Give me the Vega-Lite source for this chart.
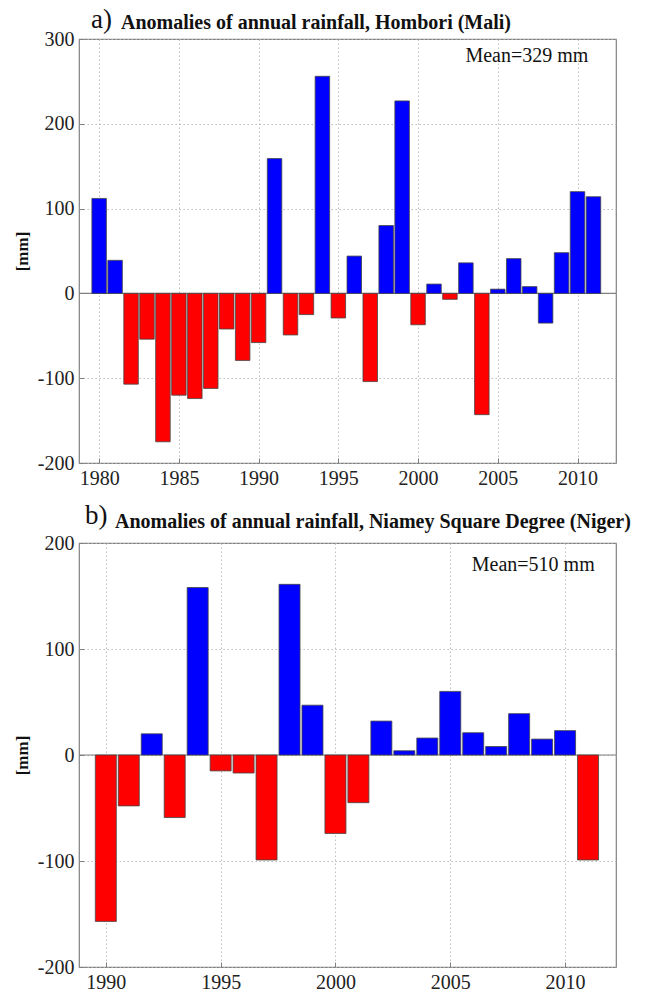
{
  "$schema": "https://vega.github.io/schema/vega-lite/v6.json",
  "background": "white",
  "padding": {"left": 12, "top": 5, "right": 0, "bottom": 0},
  "spacing": 12,
  "config": {
    "font": "Liberation Serif",
    "view": {"stroke": "#808080", "strokeWidth": 1.2},
    "axis": {
      "labelFont": "Liberation Serif",
      "labelFontSize": 20,
      "labelColor": "#222222",
      "grid": true,
      "gridColor": "#b4b4b4",
      "gridDash": [1.5, 2.5],
      "gridWidth": 0.9,
      "domain": false,
      "tickColor": "#808080",
      "tickSize": -5,
      "titleFont": "Liberation Serif",
      "titleFontSize": 17,
      "titleFontWeight": "bold",
      "titleColor": "#111111",
      "titlePadding": 6
    },
    "axisX": {"labelPadding": 10},
    "axisY": {"labelPadding": 10},
    "title": {"font": "Liberation Serif", "fontSize": 20, "fontWeight": "bold", "anchor": "start", "frame": "group", "color": "#111111"}
  },
  "datasets": {
    "hombori": [
      {"year": 1980, "anomaly": 112, "group": "wet"},
      {"year": 1981, "anomaly": 39, "group": "wet"},
      {"year": 1982, "anomaly": -107, "group": "dry"},
      {"year": 1983, "anomaly": -54, "group": "dry"},
      {"year": 1984, "anomaly": -175, "group": "dry"},
      {"year": 1985, "anomaly": -120, "group": "dry"},
      {"year": 1986, "anomaly": -124, "group": "dry"},
      {"year": 1987, "anomaly": -112, "group": "dry"},
      {"year": 1988, "anomaly": -42, "group": "dry"},
      {"year": 1989, "anomaly": -79, "group": "dry"},
      {"year": 1990, "anomaly": -58, "group": "dry"},
      {"year": 1991, "anomaly": 159, "group": "wet"},
      {"year": 1992, "anomaly": -49, "group": "dry"},
      {"year": 1993, "anomaly": -25, "group": "dry"},
      {"year": 1994, "anomaly": 256, "group": "wet"},
      {"year": 1995, "anomaly": -29, "group": "dry"},
      {"year": 1996, "anomaly": 44, "group": "wet"},
      {"year": 1997, "anomaly": -104, "group": "dry"},
      {"year": 1998, "anomaly": 80, "group": "wet"},
      {"year": 1999, "anomaly": 227, "group": "wet"},
      {"year": 2000, "anomaly": -37, "group": "dry"},
      {"year": 2001, "anomaly": 11, "group": "wet"},
      {"year": 2002, "anomaly": -7, "group": "dry"},
      {"year": 2003, "anomaly": 36, "group": "wet"},
      {"year": 2004, "anomaly": -143, "group": "dry"},
      {"year": 2005, "anomaly": 5, "group": "wet"},
      {"year": 2006, "anomaly": 41, "group": "wet"},
      {"year": 2007, "anomaly": 8, "group": "wet"},
      {"year": 2008, "anomaly": -35, "group": "wet"},
      {"year": 2009, "anomaly": 48, "group": "wet"},
      {"year": 2010, "anomaly": 120, "group": "wet"},
      {"year": 2011, "anomaly": 114, "group": "wet"}
    ],
    "niamey": [
      {"year": 1990, "anomaly": -157, "group": "dry"},
      {"year": 1991, "anomaly": -48, "group": "dry"},
      {"year": 1992, "anomaly": 20, "group": "wet"},
      {"year": 1993, "anomaly": -59, "group": "dry"},
      {"year": 1994, "anomaly": 158, "group": "wet"},
      {"year": 1995, "anomaly": -15, "group": "dry"},
      {"year": 1996, "anomaly": -17, "group": "dry"},
      {"year": 1997, "anomaly": -99, "group": "dry"},
      {"year": 1998, "anomaly": 161, "group": "wet"},
      {"year": 1999, "anomaly": 47, "group": "wet"},
      {"year": 2000, "anomaly": -74, "group": "dry"},
      {"year": 2001, "anomaly": -45, "group": "dry"},
      {"year": 2002, "anomaly": 32, "group": "wet"},
      {"year": 2003, "anomaly": 4, "group": "wet"},
      {"year": 2004, "anomaly": 16, "group": "wet"},
      {"year": 2005, "anomaly": 60, "group": "wet"},
      {"year": 2006, "anomaly": 21, "group": "wet"},
      {"year": 2007, "anomaly": 8, "group": "wet"},
      {"year": 2008, "anomaly": 39, "group": "wet"},
      {"year": 2009, "anomaly": 15, "group": "wet"},
      {"year": 2010, "anomaly": 23, "group": "wet"},
      {"year": 2011, "anomaly": -99, "group": "dry"}
    ]
  },
  "vconcat": [
    {
      "width": 537,
      "height": 424,
      "title": {"text": "Anomalies of annual rainfall, Hombori (Mali)", "dx": 42, "offset": -27},
      "layer": [
        {
          "data": {"values": [{}]},
          "mark": {"type": "rule", "color": "#808080", "strokeWidth": 1.2},
          "encoding": {"y": {"datum": 0, "type": "quantitative"}}
        },
        {
          "data": {"name": "hombori"},
          "mark": {"type": "bar", "width": 14.5, "stroke": "#444444", "strokeWidth": 0.8},
          "encoding": {
            "x": {"field": "year", "type": "quantitative",
              "scale": {"domain": [1979.05, 2012.1], "nice": false, "zero": false},
              "axis": {"values": [1980, 1985, 1990, 1995, 2000, 2005, 2010], "format": "d", "title": null, "labelFlush": false}},
            "y": {"field": "anomaly", "type": "quantitative",
              "scale": {"domain": [-200, 300], "nice": false},
              "axis": {"values": [-200, -100, 0, 100, 200, 300], "labelExpr": "'' + datum.value", "title": "[mm]"}},
            "color": {"field": "group", "type": "nominal", "scale": {"domain": ["wet", "dry"], "range": ["#0000ff", "#ff0000"]}, "legend": null}
          }
        },
        {
          "data": {"values": [{}]},
          "mark": {"type": "text", "text": "Mean=329 mm", "align": "right", "baseline": "alphabetic", "fontSize": 20, "font": "Liberation Serif", "color": "#111111"},
          "encoding": {"x": {"datum": 2010.68, "type": "quantitative"}, "y": {"datum": 272.5, "type": "quantitative"}}
        },
        {
          "data": {"values": [{}]},
          "mark": {"type": "text", "text": "a)", "align": "left", "baseline": "alphabetic", "fontSize": 27, "font": "Liberation Serif", "color": "#111111", "dx": 7, "dy": -11},
          "encoding": {"x": {"datum": 1979.05, "type": "quantitative"}, "y": {"datum": 300, "type": "quantitative"}}
        }
      ]
    },
    {
      "width": 537,
      "height": 424,
      "title": {"text": "Anomalies of annual rainfall, Niamey Square Degree (Niger)", "dx": 36, "offset": -30},
      "layer": [
        {
          "data": {"values": [{}]},
          "mark": {"type": "rule", "color": "#808080", "strokeWidth": 1.2},
          "encoding": {"y": {"datum": 0, "type": "quantitative"}}
        },
        {
          "data": {"name": "niamey"},
          "mark": {"type": "bar", "width": 21, "stroke": "#444444", "strokeWidth": 0.8},
          "encoding": {
            "x": {"field": "year", "type": "quantitative",
              "scale": {"domain": [1989.05, 2012], "nice": false, "zero": false},
              "axis": {"values": [1990, 1995, 2000, 2005, 2010], "format": "d", "title": null, "labelFlush": false}},
            "y": {"field": "anomaly", "type": "quantitative",
              "scale": {"domain": [-200, 200], "nice": false},
              "axis": {"values": [-200, -100, 0, 100, 200], "labelExpr": "'' + datum.value", "title": "[mm]"}},
            "color": {"field": "group", "type": "nominal", "scale": {"domain": ["wet", "dry"], "range": ["#0000ff", "#ff0000"]}, "legend": null}
          }
        },
        {
          "data": {"values": [{}]},
          "mark": {"type": "text", "text": "Mean=510 mm", "align": "right", "baseline": "alphabetic", "fontSize": 20, "font": "Liberation Serif", "color": "#111111"},
          "encoding": {"x": {"datum": 2011.29, "type": "quantitative"}, "y": {"datum": 174, "type": "quantitative"}}
        },
        {
          "data": {"values": [{}]},
          "mark": {"type": "text", "text": "b)", "align": "left", "baseline": "alphabetic", "fontSize": 27, "font": "Liberation Serif", "color": "#111111", "dx": 1, "dy": -19},
          "encoding": {"x": {"datum": 1989.05, "type": "quantitative"}, "y": {"datum": 200, "type": "quantitative"}}
        }
      ]
    }
  ]
}
